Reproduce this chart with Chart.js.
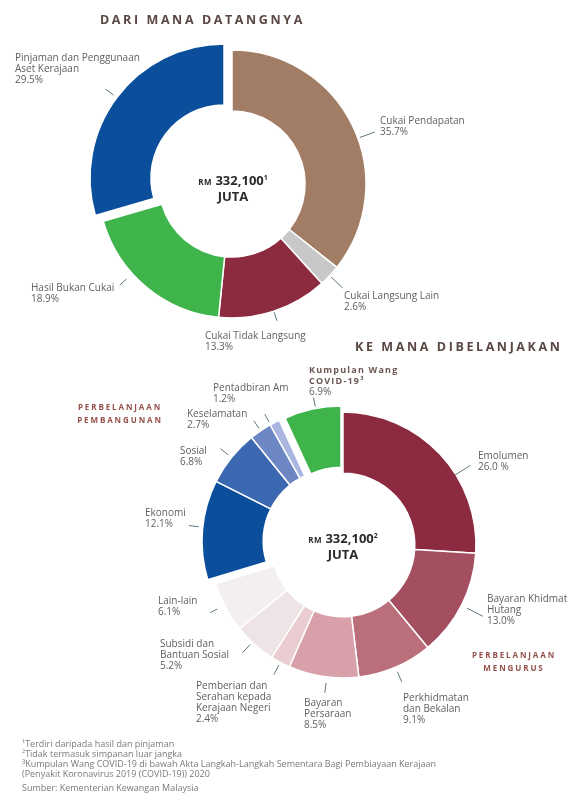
<!DOCTYPE html>
<html><head><meta charset="utf-8">
<script src="https://cdn.jsdelivr.net/npm/chart.js@4.4.1/dist/chart.umd.min.js"></script>
<style>
html,body{margin:0;padding:0;background:#fff;}
#page{position:relative;width:570px;height:794px;overflow:hidden;font-family:"Open Sans",sans-serif;}
canvas{position:absolute;left:0;}
.lbl{position:absolute;font-size:10px;line-height:11px;color:#5f5f5f;white-space:nowrap;}
.lbl b{font-weight:700;color:#6a5652;letter-spacing:1.2px;font-size:9px;}
.title{position:absolute;font-weight:700;font-size:12.5px;letter-spacing:2.6px;color:#5a4744;white-space:nowrap;line-height:14px;}
.grp{position:absolute;font-weight:700;font-size:8px;letter-spacing:1.9px;color:#94514b;text-align:center;line-height:13px;white-space:nowrap;transform:translateX(-50%);}
.ctr{position:absolute;font-weight:700;font-size:13px;line-height:15px;color:#2a2a2a;text-align:center;white-space:nowrap;transform:translateX(-50%);}
.ctr small{font-size:8px;letter-spacing:0.5px;}
.ctr sup{font-size:7px;vertical-align:5px;line-height:0;}
.foot{position:absolute;left:22px;font-size:9px;color:#7a7a7a;white-space:nowrap;line-height:10px;}
</style>
</head>
<body>
<div id="page">
  <canvas id="c1" width="570" height="360" style="top:0"></canvas>
  <canvas id="c2" width="570" height="420" style="top:340px"></canvas>
</div>
<script>
// ---------------- DATA ----------------
const totalJuta = '332,100';

const srcCategories = [
  ['Cukai Pendapatan'],
  ['Cukai Langsung Lain'],
  ['Cukai Tidak Langsung'],
  ['Hasil Bukan Cukai'],
  ['Pinjaman dan Penggunaan', 'Aset Kerajaan']
];
const srcValues = [35.7, 2.6, 13.3, 18.9, 29.5];

const useCategories = [
  ['Emolumen'],
  ['Bayaran Khidmat', 'Hutang'],
  ['Perkhidmatan', 'dan Bekalan'],
  ['Bayaran', 'Persaraan'],
  ['Pemberian dan', 'Serahan kepada', 'Kerajaan Negeri'],
  ['Subsidi dan', 'Bantuan Sosial'],
  ['Lain-lain'],
  ['Ekonomi'],
  ['Sosial'],
  ['Keselamatan'],
  ['Pentadbiran Am'],
  ['Kumpulan Wang', 'COVID-19³']
];
const useValues = [26.0, 13.0, 9.1, 8.5, 2.4, 5.2, 6.1, 12.1, 6.8, 2.7, 1.2, 6.9];

const groupLabels = [['PERBELANJAAN', 'PEMBANGUNAN'], ['PERBELANJAAN', 'MENGURUS']];
const titles = ['DARI MANA DATANGNYA', 'KE MANA DIBELANJAKAN'];
const footnotes = [
  '¹Terdiri daripada hasil dan pinjaman',
  '²Tidak termasuk simpanan luar jangka',
  '³Kumpulan Wang COVID-19 di bawah Akta Langkah-Langkah Sementara Bagi Pembiayaan Kerajaan',
  '(Penyakit Koronavirus 2019 (COVID-19)) 2020',
  'Sumber: Kementerian Kewangan Malaysia'
];

// ---------------- STYLE / LAYOUT ----------------
const srcColors = ['#a27d66', '#c8c8c8', '#8c2b3f', '#3fb44b', '#0b4f9c'];
const useColors = ['#8c2b3f', '#a34f60', '#bb6f7b', '#d8a1a9', '#e9cdd0', '#efe4e5', '#f3efef',
                   '#0b4f9c', '#3c68b1', '#6d87c5', '#a9b6df', '#3fb44b'];

const srcShift = [null, null, null, null, [-8, -6]];
const useShift = [null, null, null, null, null, null, null, [-8, -4], [-8, -4], [-8, -4], [-8, -4], [-2, -6]];

const srcLeaders = [
  {a: 70, r0: 2, r1: 18}, {a: null, r0: 2, r1: 18}, {a: null, r0: 1, r1: 10},
  {a: 228, r0: 8, r1: 17}, {a: null, r0: 4, r1: 14}
];
const useLeaders = [
  {a: 58, r0: -1, r1: 17}, {a: null, r0: 6, r1: 24}, {a: null, r0: 5, r1: 16},
  {a: 187, r0: 6, r1: 16}, {a: null, r0: 3, r1: 14}, {a: 223, r0: 3, r1: 14},
  {a: 243, r0: 8, r1: 16}, {a: 276, r0: 4, r1: 14}, {a: null, r0: 4, r1: 14},
  {a: null, r0: 3, r1: 12}, {a: 331, r0: 3, r1: 12}, {a: 349, r0: 2, r1: 11}
];

const srcLabelPos = [[380, 120], [344, 295], [205, 335], [31, 287], [15, 57]];
const useLabelPos = [[478, 455], [487, 598], [403, 697], [304, 702], [196, 685], [160, 643],
                     [158, 600], [145, 512], [180, 450], [187, 413], [213, 387], [309, 369]];

// ---------------- PLUGINS ----------------
function makeShiftPlugin(shifts) {
  return {
    id: 'shiftDraw',
    beforeDatasetDraw(chart, args) {
      const ctx = chart.ctx;
      args.meta.data.forEach((arc, i) => {
        ctx.save();
        const s = shifts[i];
        if (s) ctx.translate(s[0], s[1]);
        arc.draw(ctx);
        ctx.restore();
      });
      return false;
    }
  };
}
function makeLeaderPlugin(specs, shifts) {
  return {
    id: 'leaders',
    afterDatasetsDraw(chart) {
      const ctx = chart.ctx;
      const meta = chart.getDatasetMeta(0);
      ctx.save();
      ctx.strokeStyle = '#5d7680';
      ctx.lineWidth = 1;
      meta.data.forEach((arc, i) => {
        const sp = specs[i];
        if (!sp) return;
        const p = arc.getProps(['x', 'y', 'startAngle', 'endAngle', 'outerRadius'], true);
        const th = sp.a != null ? (sp.a - 90) * Math.PI / 180 : (p.startAngle + p.endAngle) / 2;
        const sh = shifts[i] || [0, 0];
        const c = Math.cos(th), s = Math.sin(th);
        const R0 = p.outerRadius + sp.r0, R1 = p.outerRadius + sp.r1;
        ctx.beginPath();
        ctx.moveTo(p.x + sh[0] + c * R0, p.y + sh[1] + s * R0);
        ctx.lineTo(p.x + sh[0] + c * R1, p.y + sh[1] + s * R1);
        ctx.stroke();
      });
      ctx.restore();
    }
  };
}

function makeDonut(id, cats, vals, colors, radius, cutout, padding, shifts, leaders) {
  return new Chart(document.getElementById(id), {
    type: 'doughnut',
    data: {
      labels: cats.map(c => c.join(' ')),
      datasets: [{
        data: vals,
        backgroundColor: colors,
        borderColor: '#ffffff',
        borderWidth: 1.5,
        radius: radius
      }]
    },
    options: {
      responsive: false,
      animation: false,
      events: [],
      cutout: cutout,
      radius: radius,
      layout: {padding: padding},
      plugins: {legend: {display: false}, tooltip: {enabled: false}}
    },
    plugins: [makeShiftPlugin(shifts), makeLeaderPlugin(leaders, shifts)]
  });
}

makeDonut('c1', srcCategories, srcValues, srcColors, 134, '54.5%',
          {left: 0, right: 106, top: 8, bottom: 0}, srcShift, srcLeaders);
makeDonut('c2', useCategories, useValues, useColors, 133, '54%',
          {left: 116, right: 0, top: 0, bottom: 10}, useShift, useLeaders);

// ---------------- TEXT (DOM) ----------------
const page = document.getElementById('page');
function addDiv(cls, html, left, top) {
  const d = document.createElement('div');
  d.className = cls;
  d.innerHTML = html;
  d.style.left = left + 'px';
  d.style.top = top + 'px';
  page.appendChild(d);
  return d;
}
const pct = v => v.toFixed(1) + '%';

srcCategories.forEach((c, i) => {
  const [x, y] = srcLabelPos[i];
  addDiv('lbl', c.join('<br>') + '<br>' + pct(srcValues[i]), x, y - 5.5);
});
useCategories.forEach((c, i) => {
  const [x, y] = useLabelPos[i];
  const txt = (i === useCategories.length - 1)
    ? c.map(t => '<b>' + t + '</b>').join('<br>')
    : c.join('<br>');
  addDiv('lbl', txt + '<br>' + (i === 0 ? useValues[i].toFixed(1) + ' %' : pct(useValues[i])), x, y - 5.5);
});

addDiv('title', titles[0], 100, 13);
const t2 = addDiv('title', titles[1], 0, 340);
t2.style.left = (562 - t2.offsetWidth) + 'px';

addDiv('grp', groupLabels[0].join('<br>'), 120, 400);
addDiv('grp', groupLabels[1].join('<br>'), 514, 648);

addDiv('ctr', '<small>RM</small> ' + totalJuta + '<sup>1</sup><br>JUTA', 233, 173);
addDiv('ctr', '<small>RM</small> ' + totalJuta + '<sup>2</sup><br>JUTA', 343, 531);

const footY = [744, 754, 764, 774, 788];
footnotes.forEach((f, i) => addDiv('foot', f, 22, footY[i] - 5));
</script>
</body></html>
